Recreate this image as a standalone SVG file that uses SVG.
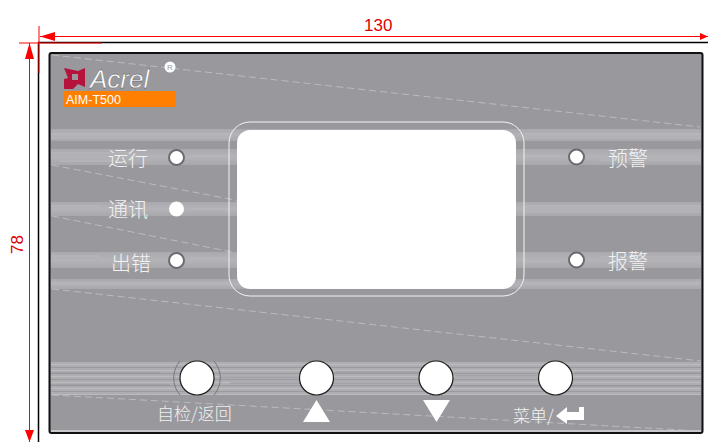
<svg xmlns="http://www.w3.org/2000/svg" width="708" height="442" viewBox="0 0 708 442">
<defs>
<style>
.dim{stroke:#f00;stroke-width:1;fill:none}
.arw{fill:#f00;stroke:none}
.dt{fill:#e00000;font-family:"Liberation Sans",sans-serif;font-size:17px;font-weight:300}
.lb{fill:#f2f2f2;font-family:"Noto Sans CJK SC","Noto Sans",sans-serif;font-size:20px;font-weight:300}
.lbs{fill:#f2f2f2;font-family:"Noto Sans CJK SC","Noto Sans",sans-serif;font-size:17px;font-weight:300}
.btn{fill:#fff;stroke:#1c1c1c;stroke-width:1.2}
.led{fill:#fff;stroke:#6a6a70;stroke-width:2}
.dash{stroke:#c4c4c8;stroke-width:.8;stroke-dasharray:7 4;fill:none}
.st{stroke:#bdbdc0;stroke-width:1;opacity:.75}
.st2{stroke:#8f8f94;stroke-width:1;opacity:.7}
</style>
<pattern id="stripes" width="708" height="6" patternUnits="userSpaceOnUse">
<rect width="708" height="6" fill="#aeaeb2"/>
<rect y="1" width="708" height="1" fill="#9a9a9f"/>
<rect y="4" width="708" height="1" fill="#bcbcbf"/>
</pattern>
<linearGradient id="band" x1="0" y1="0" x2="0" y2="1">
<stop offset="0" stop-color="#aaaaae"/>
<stop offset=".5" stop-color="#b4b4b8"/>
<stop offset="1" stop-color="#a8a8ac"/>
</linearGradient>
</defs>
<rect width="708" height="442" fill="#fff"/>
<g id="frame">
<path d="M38.500 442V42.500H708" fill="none" stroke="#000" stroke-width="1.500"/>
</g>
<g id="panel">
<rect x="49.500" y="53" width="653" height="380" rx="2" fill="#98989d" stroke="#111" stroke-width="2"/>
<rect x="51" y="129" width="650" height="12" fill="url(#band)"/>
<path class="st" d="M51 134H228M525 134H701M51 138H228M525 138H701"/>
<rect x="51" y="149" width="650" height="16" fill="url(#band)"/>
<path class="st" d="M51 153H130M190 156H228M525 156H560M600 160H701M60 161H120"/>
<rect x="51" y="202" width="650" height="14" fill="url(#band)"/>
<path class="st" d="M51 206H100M190 209H228M525 206H701M525 212H701"/>
<rect x="51" y="252" width="650" height="16" fill="url(#band)"/>
<path class="st" d="M51 256H100M190 258H228M525 262H560M600 257H701"/>
<rect x="51" y="279" width="650" height="10" fill="url(#band)"/>
<path class="st" d="M51 283H228M525 283H701"/>
<rect x="51" y="361" width="650" height="34" fill="url(#stripes)"/>
<path class="st2" d="M51 373H160M220 377H300M335 372H420M455 376H540M575 373H701M51 385H170M230 383H420M455 386H701"/>
<rect x="51" y="430" width="650" height="2" fill="#c8c8cb"/>
<path class="dash" d="M52 55L700 127"/>
<path class="dash" d="M52 165L240 201"/>
<path class="dash" d="M52 216L232 252"/>
<path class="dash" d="M52 289L701 361"/>
<path class="dash" d="M52 395L700 431"/>
</g>
<g id="logo">
<path d="M64 68L78 71L85 68V87L78 84L73 89H64V79L68 78Z" fill="#b5133c"/>
<rect x="72" y="74" width="6" height="6" fill="#98989d"/>
<text x="90" y="88" font-family="Liberation Sans,sans-serif" font-size="26" font-style="italic" fill="#fff" stroke="#444" stroke-width=".3">Acrel</text>
<circle cx="170" cy="67" r="5.500" fill="#fff"/>
<text x="170" y="70" font-family="Liberation Sans,sans-serif" font-size="8" fill="#98989d" text-anchor="middle">R</text>
<rect x="64" y="91" width="112" height="16" fill="#ff8000"/>
<text x="66" y="104" font-family="Liberation Sans,sans-serif" font-size="12.500" fill="#fff">AIM-T500</text>
</g>
<g id="screen">
<rect x="229" y="122" width="295" height="174" rx="21" fill="none" stroke="#f4f4f4" stroke-width="1"/>
<rect x="237" y="130" width="279" height="159" rx="13" fill="#fff"/>
</g>
<g id="led-run"><text class="lb" x="108" y="166">运行</text><circle class="led" cx="176.500" cy="157.500" r="7.500"/></g>
<g id="led-comm"><text class="lb" x="108" y="217">通讯</text><circle cx="176.500" cy="209" r="7.500" fill="#fff"/></g>
<g id="led-err"><text class="lb" x="111" y="271">出错</text><circle class="led" cx="176.500" cy="260.500" r="7.500"/></g>
<g id="led-warn"><text class="lb" x="608" y="166">预警</text><circle class="led" cx="576.500" cy="157" r="7.500"/></g>
<g id="led-alarm"><text class="lb" x="608" y="269">报警</text><circle class="led" cx="576.500" cy="260" r="7.500"/></g>
<g id="btn-self">
<path d="M180 361A26 26 0 0 0 180 395M214 361A26 26 0 0 1 214 395" fill="none" stroke="#77777c" stroke-width="1"/>
<circle class="btn" cx="197" cy="378" r="17"/>
<text class="lbs" x="157" y="420">自检/返回</text>
</g>
<g id="btn-up">
<circle class="btn" cx="316.500" cy="378" r="17"/>
<path d="M303 422L316.500 400L330 422Z" fill="#fff"/>
</g>
<g id="btn-down">
<circle class="btn" cx="436" cy="378" r="17"/>
<path d="M423 400H450L436.500 422Z" fill="#fff"/>
</g>
<g id="btn-menu">
<circle class="btn" cx="555.500" cy="378" r="17"/>
<text class="lbs" x="513" y="422">菜单/</text>
<path d="M556 416L567 407V412H579V407H584V420H567V424Z" fill="#fff"/>
</g>
<g id="connectors">
<path class="dim" d="M39 26V73M19 43H102M40 36.500H708M29.500 43V442"/>
<path class="arw" d="M40 36.500L55 32V41ZM708 36.500L700 33V40ZM29.500 43L25 59H34ZM29.500 442L25 430H34Z"/>
<text class="dt" x="364" y="31">130</text>
<text class="dt" transform="translate(23 254) rotate(-90)">78</text>
</g>
</svg>
